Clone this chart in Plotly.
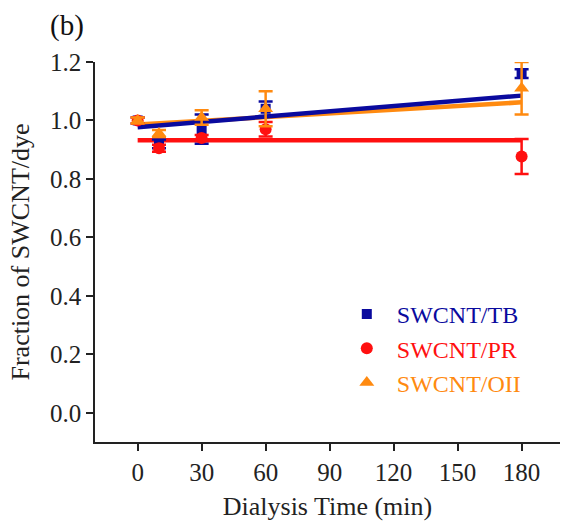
import plotly.graph_objects as go

time_min = [0, 10, 30, 60, 180]

tb_vals = [1.00, 0.92, 0.97, 1.04, 1.16]
tb_err = [0.01, 0.015, 0.05, 0.025, 0.015]
pr_vals = [1.00, 0.905, 0.94, 0.97, 0.877]
pr_err = [0.01, 0.012, 0.01, 0.025, 0.06]
oii_vals = [1.00, 0.955, 1.01, 1.04, 1.11]
oii_err = [0.01, 0.012, 0.025, 0.06, 0.09]

fit_x = [0, 180]
tb_fit = [0.977, 1.085]
pr_fit = [0.932, 0.932]
oii_fit = [0.986, 1.062]

C_TB = "#0a0a9e"
C_PR = "#ff1010"
C_OII = "#ff8a10"

FONT = "Liberation Serif, Times New Roman, serif"
FS = 25

fig = go.Figure()

for fy, col in [(pr_fit, C_PR), (oii_fit, C_OII), (tb_fit, C_TB)]:
    fig.add_trace(go.Scatter(x=fit_x, y=fy, mode="lines",
                             line=dict(color=col, width=4.5),
                             showlegend=False, hoverinfo="skip"))

series = [
    ("SWCNT/TB", tb_vals, tb_err, C_TB, "square", 10),
    ("SWCNT/PR", pr_vals, pr_err, C_PR, "circle", 12),
    ("SWCNT/OII", oii_vals, oii_err, C_OII, "triangle-up", 13),
]
for name, vals, errs, col, sym, sz in series:
    fig.add_trace(go.Scatter(
        x=time_min, y=vals, mode="markers",
        name=f"<span style='color:{col}'>{name}</span>",
        marker=dict(symbol=sym, size=sz, color=col),
        error_y=dict(type="data", array=errs, visible=True,
                     color=col, thickness=2.5, width=7),
    ))

fig.update_layout(
    width=562, height=523,
    margin=dict(l=95, r=2, t=62, b=81),
    paper_bgcolor="white", plot_bgcolor="white",
    font=dict(family=FONT, size=FS, color="#222"),
    showlegend=True,
    legend=dict(x=0.52, y=0.395, xanchor="left", yanchor="top",
                bgcolor="rgba(0,0,0,0)", font=dict(family=FONT, size=24),
                tracegroupgap=0, itemwidth=50),
    annotations=[dict(text="(b)", x=-0.06, y=1.097, xref="paper", yref="paper",
                      xanchor="center", yanchor="middle", showarrow=False,
                      font=dict(family=FONT, size=29, color="#111"))],
)

fig.update_xaxes(
    range=[-20, 198], tickvals=[0, 30, 60, 90, 120, 150, 180],
    showline=True, linecolor="#222", linewidth=1.5, mirror=False,
    ticks="outside", ticklen=7, tickwidth=1.5, tickcolor="#222",
    showgrid=False, zeroline=False,
    title=dict(text="Dialysis Time (min)", font=dict(family=FONT, size=FS + 1), standoff=12),
)
fig.update_yaxes(
    range=[-0.1, 1.2], tickvals=[0, 0.2, 0.4, 0.6, 0.8, 1.0, 1.2],
    tickformat=".1f",
    showline=True, linecolor="#222", linewidth=1.5, mirror=False,
    ticks="outside", ticklen=7, tickwidth=1.5, tickcolor="#222",
    showgrid=False, zeroline=False,
    title=dict(text="Fraction of SWCNT/dye", font=dict(family=FONT, size=FS + 1), standoff=13),
)

fig.write_html("out.html")
